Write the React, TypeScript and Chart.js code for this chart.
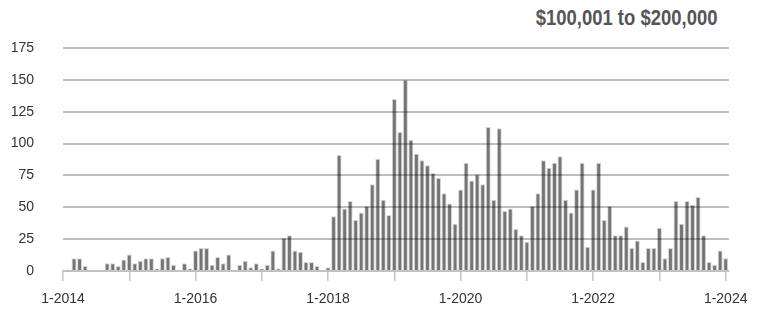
import { useEffect, useRef } from 'react';
import { Chart, registerables } from 'chart.js';

Chart.register(...registerables);

const TITLE = '$100,001 to $200,000';

// Monthly counts, January 2014 .. January 2024
const v2014 = [1, 1, 10, 10, 4, 1, 1, 1, 6, 6, 4, 9];
const v2015 = [13, 6, 8, 10, 10, 2, 10, 11, 5, 1, 6, 2];
const v2016 = [16, 18, 18, 5, 11, 6, 13, 1, 5, 8, 3, 6];
const v2017 = [2, 5, 16, 2, 26, 28, 16, 15, 7, 7, 4, 1];
const v2018 = [3, 43, 91, 49, 55, 40, 46, 51, 68, 88, 56, 44];
const v2019 = [135, 109, 150, 103, 92, 87, 83, 77, 73, 61, 53, 37];
const v2020 = [64, 85, 71, 76, 68, 113, 56, 112, 47, 49, 33, 28];
const v2021 = [23, 51, 61, 87, 81, 85, 90, 56, 46, 64, 85, 19];
const v2022 = [64, 85, 40, 51, 28, 28, 35, 18, 24, 7, 18, 18];
const v2023 = [34, 10, 18, 55, 37, 55, 52, 58, 28, 7, 5, 16];
const v2024 = [10];

const yTicks = [0, 25, 50, 75, 100, 125, 150, 175];
const yearTicks = [0, 12, 24, 36, 48, 60, 72, 84, 96, 108, 120];
const xTickLabels = ['1-2014', '', '1-2016', '', '1-2018', '', '1-2020', '', '1-2022', '', '1-2024'];

const values = [
  ...v2014, ...v2015, ...v2016, ...v2017, ...v2018,
  ...v2019, ...v2020, ...v2021, ...v2022, ...v2023, ...v2024,
];

const FONT = "'Liberation Sans', Arial, sans-serif";

export default function App() {
  const ref = useRef<HTMLCanvasElement | null>(null);

  useEffect(() => {
    if (!ref.current) return;
    const chart = new Chart(ref.current, {
      type: 'bar',
      data: {
        datasets: [
          {
            data: values.map((v, i) => ({ x: i, y: v })),
            backgroundColor: 'rgba(0,0,0,0.54)',
            borderColor: 'rgba(0,0,0,0.16)',
            borderWidth: 1,
            borderSkipped: 'start',
            barPercentage: 0.9,
            categoryPercentage: 1,
            clip: false as any,
          } as any,
        ],
      },
      options: {
        responsive: false,
        animation: false,
        layout: { padding: { top: 48, left: 0, right: 33, bottom: 0 } },
        plugins: { legend: { display: false }, tooltip: { enabled: false }, title: { display: false } },
        scales: {
          x: {
            type: 'linear',
            min: 0,
            max: 120.6,
            offset: false,
            afterBuildTicks: (s: any) => {
              s.ticks = yearTicks.map((v) => ({ value: v }));
            },
            afterFit: (s: any) => {
              s.height = 43;
            },
            grid: {
              display: true,
              drawOnChartArea: false,
              drawTicks: true,
              tickLength: 10,
              color: '#c4c4c4',
              lineWidth: 1.5,
              offset: false,
            },
            border: { display: true, color: '#c4c4c4', width: 1.5 },
            ticks: {
              autoSkip: false,
              maxRotation: 0,
              minRotation: 0,
              padding: 10,
              color: '#333',
              font: { family: FONT, size: 14 },
              callback: (v: any) => {
                const idx = yearTicks.indexOf(Number(v));
                return idx >= 0 ? xTickLabels[idx] : '';
              },
            },
          } as any,
          y: {
            min: 0,
            max: 175,
            afterBuildTicks: (s: any) => {
              s.ticks = yTicks.map((v) => ({ value: v }));
            },
            afterFit: (s: any) => {
              s.width = 63;
            },
            grid: { color: '#bdbdbd', lineWidth: 2, drawTicks: false },
            border: { display: false },
            ticks: {
              padding: 29,
              color: '#333',
              font: { family: FONT, size: 14 },
            },
          } as any,
        },
      },
    });
    return () => chart.destroy();
  }, []);

  return (
    <div style={{ position: 'fixed', left: 0, top: 0, width: 762, height: 314, background: '#fff' }}>
      <div
        style={{
          position: 'absolute',
          right: 44,
          top: 7,
          fontFamily: "'Liberation Sans', Arial, sans-serif",
          fontWeight: 'bold',
          fontSize: 22,
          lineHeight: '22px',
          color: '#555',
          whiteSpace: 'nowrap',
          transform: 'scaleX(0.84)',
          transformOrigin: 'right center',
        }}
      >
        {TITLE}
      </div>
      <canvas ref={ref} width={762} height={314} style={{ position: 'absolute', left: 0, top: 0 }} />
    </div>
  );
}
